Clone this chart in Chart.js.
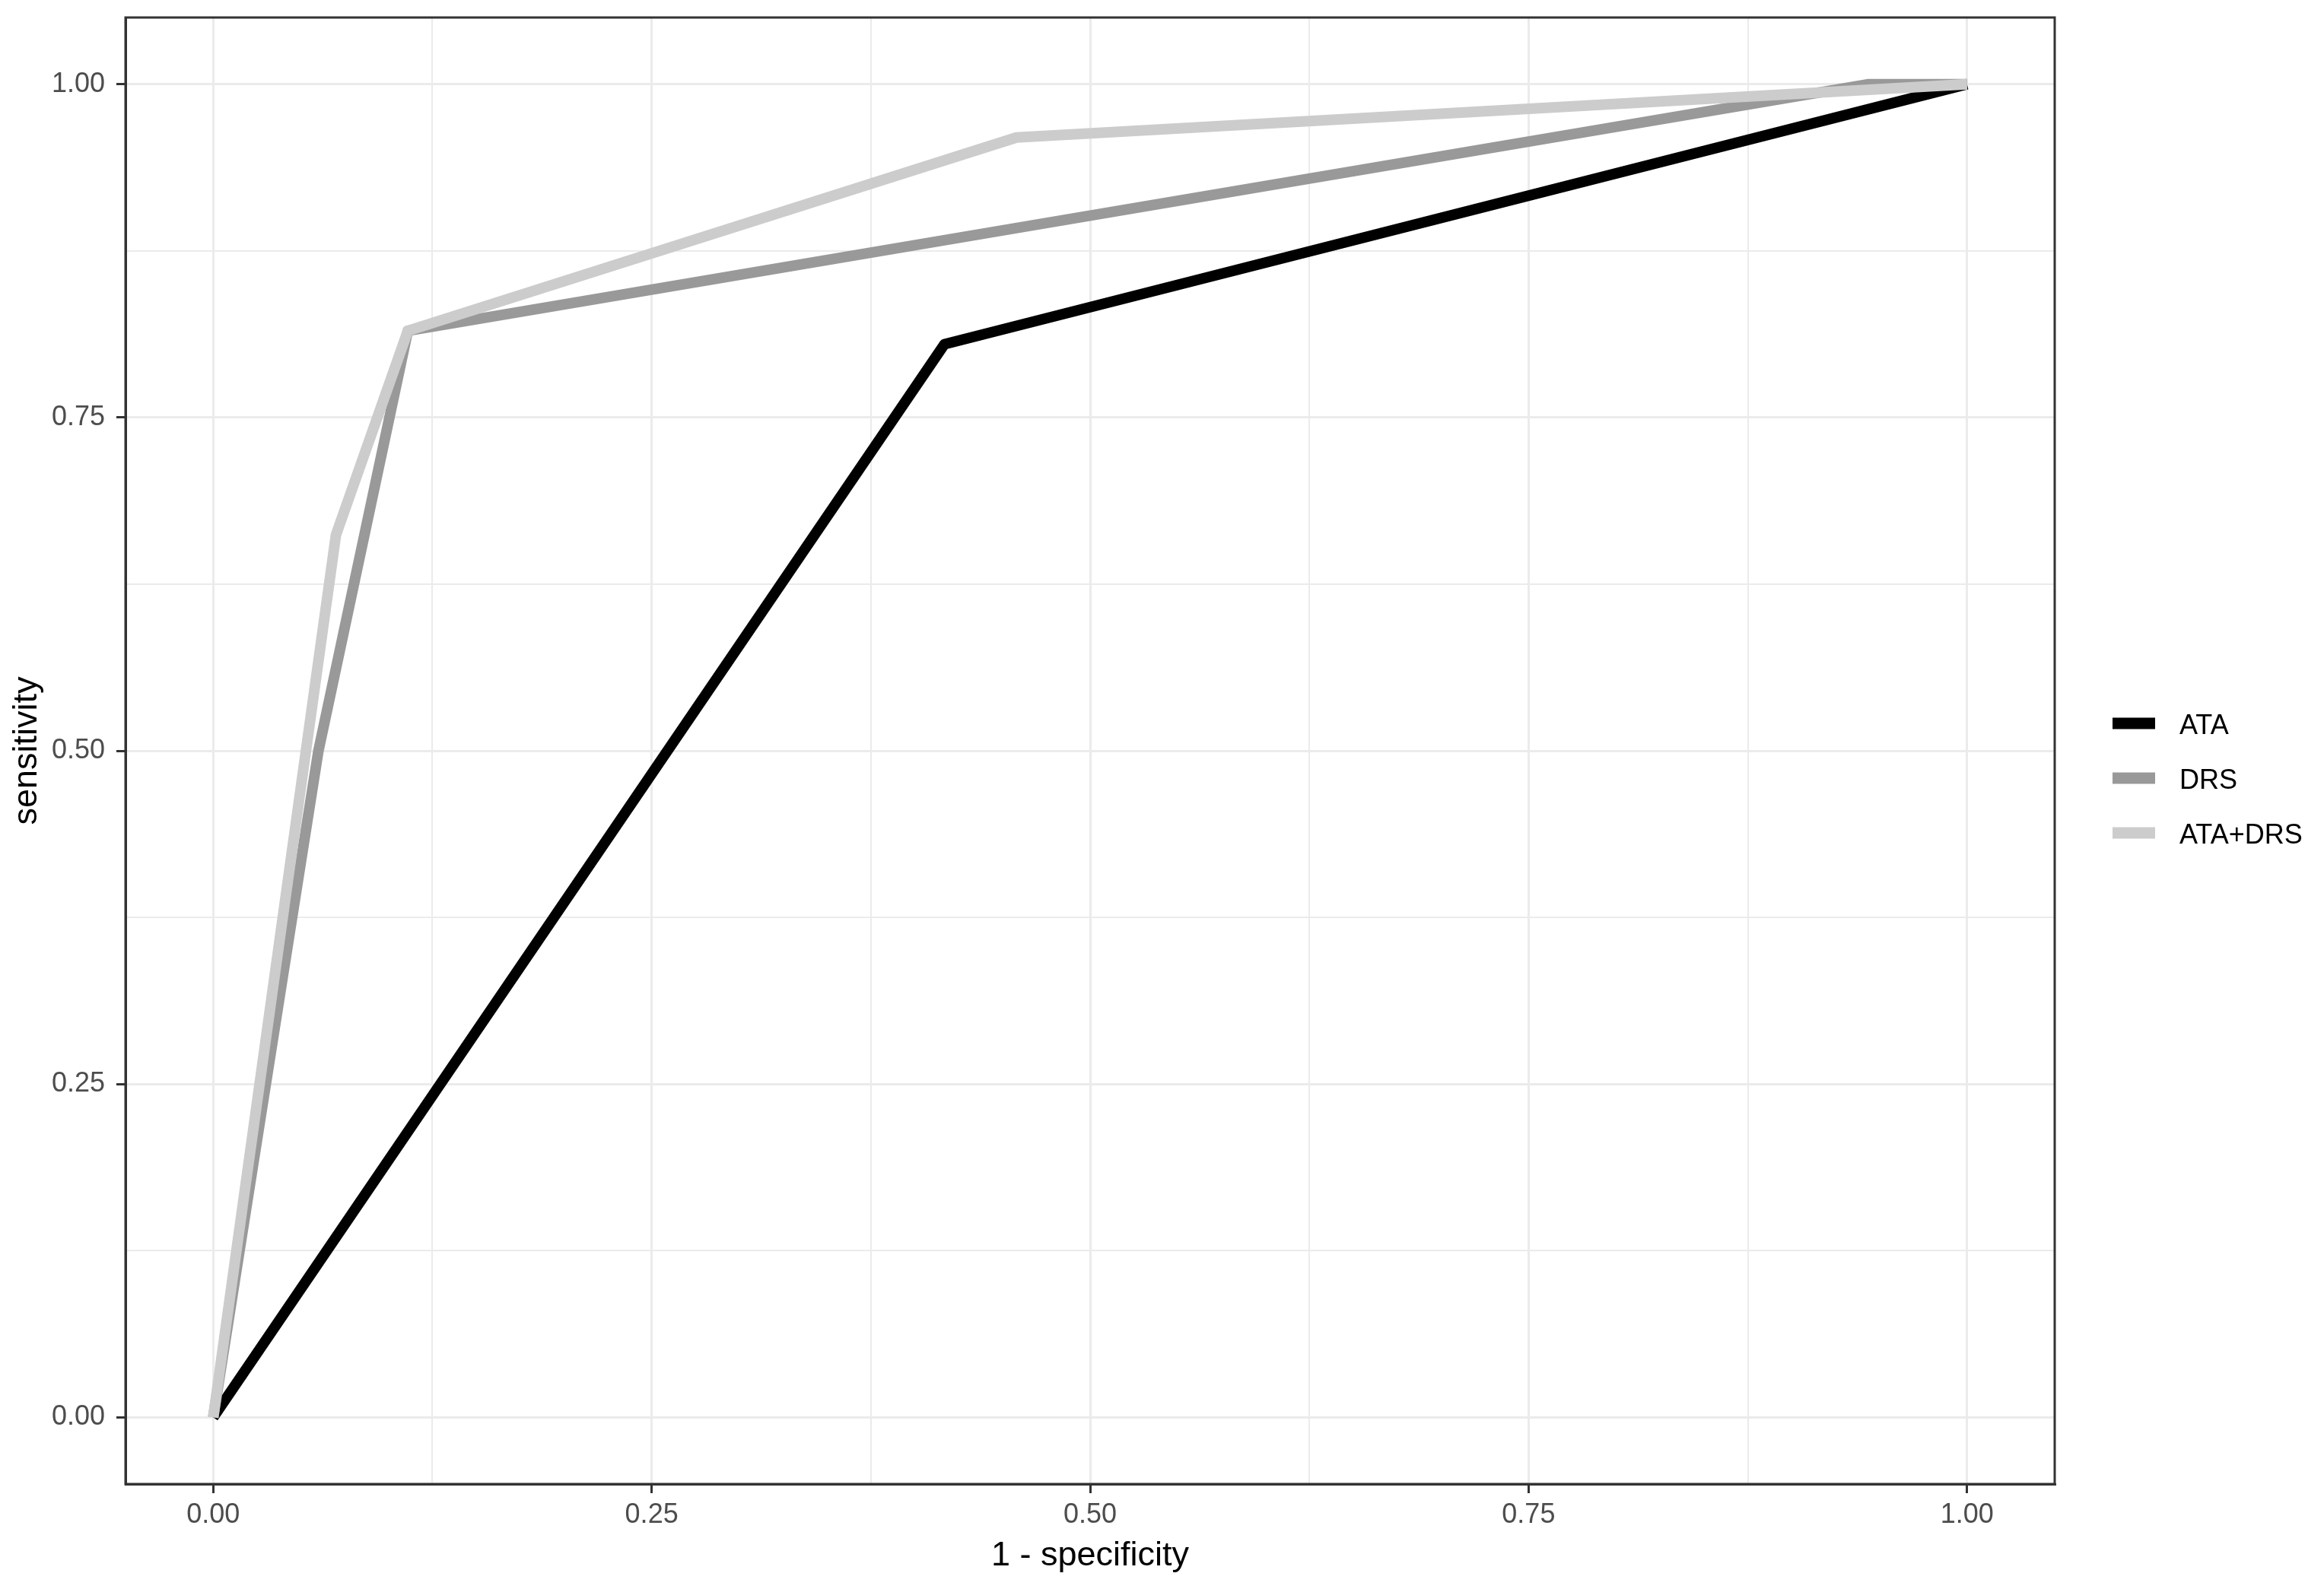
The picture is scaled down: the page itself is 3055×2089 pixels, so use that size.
<!DOCTYPE html>
<html>
<head>
<meta charset="utf-8">
<script src="https://cdn.jsdelivr.net/npm/chart.js@4.4.1/dist/chart.umd.min.js"></script>
<style>
html, body { margin: 0; padding: 0; background: #ffffff; }
#wrap { width: 3055px; height: 2089px; }
</style>
</head>
<body>
<div id="wrap"><canvas id="roc-chart" width="3055" height="2089"></canvas></div>
<script>
// ROC curves
var seriesNames = ['ATA', 'DRS', 'ATA+DRS'];
var seriesColors = ['#000000', '#999999', '#CCCCCC'];
var ataFpr = [0, 0.417, 1];
var ataTpr = [0, 0.805, 1];
var drsFpr = [0, 0.06, 0.111, 0.944, 1];
var drsTpr = [0, 0.5, 0.815, 1, 1];
var comboFpr = [0, 0.07, 0.111, 0.458, 1];
var comboTpr = [0, 0.662, 0.815, 0.96, 1];
var majorTicks = [0, 0.25, 0.5, 0.75, 1];
var minorTicks = [0.125, 0.375, 0.625, 0.875];
var tickLabels = ['0.00', '0.25', '0.50', '0.75', '1.00'];

var fontFamily = "'Liberation Sans', Arial, sans-serif";

function toPoints(xs, ys) {
    var pts = [];
    for (var i = 0; i < xs.length; i++) {
        pts.push({ x: xs[i], y: ys[i] });
    }
    return pts;
}

function isMajor(v) {
    for (var i = 0; i < majorTicks.length; i++) {
        if (Math.abs(majorTicks[i] - v) < 1e-9) return i;
    }
    return -1;
}

function buildTicks(scale) {
    var all = majorTicks.concat(minorTicks).sort(function (a, b) { return a - b; });
    scale.ticks = all.map(function (v) { return { value: v }; });
}

function axisOptions(titleText, titlePadding, fit) {
    return {
        type: 'linear',
        min: -0.05,
        max: 1.05,
        afterBuildTicks: buildTicks,
        afterFit: fit,
        ticks: {
            autoSkip: false,
            maxRotation: 0,
            color: '#4D4D4D',
            font: { family: fontFamily, size: 36 },
            callback: function (value) {
                var i = isMajor(value);
                return i >= 0 ? tickLabels[i] : '';
            }
        },
        grid: {
            color: '#EBEBEB',
            lineWidth: function (ctx) {
                return ctx.tick && isMajor(ctx.tick.value) >= 0 ? 3 : 2;
            },
            tickColor: function (ctx) {
                return ctx.tick && isMajor(ctx.tick.value) >= 0 ? '#333333' : 'rgba(0,0,0,0)';
            },
            tickLength: 12,
            tickWidth: 3
        },
        border: { display: true, color: '#333333', width: 3 },
        title: {
            display: true,
            text: titleText,
            color: '#000000',
            font: { family: fontFamily, size: 45 },
            padding: titlePadding
        }
    };
}

// fixed axis sizes so the panel sits where the reference has it
var xAxis = axisOptions('1 - specificity', { top: 0, bottom: 16 }, function (scale) {
    scale.height = 138;
    scale.paddingLeft = 0;
    scale.paddingRight = 0;
});
xAxis.ticks.padding = 7;
var yAxis = axisOptions('sensitivity', { top: 9, bottom: 0 }, function (scale) {
    scale.width = 165;
    scale.paddingTop = 0;
    scale.paddingBottom = 0;
});
yAxis.ticks.padding = 15;

// panel frame + legend on the right
var panelAndLegend = {
    id: 'panelAndLegend',
    afterDraw: function (chart) {
        var c = chart.ctx;
        var a = chart.chartArea;
        c.save();
        c.strokeStyle = '#333333';
        c.lineWidth = 3;
        c.strokeRect(a.left, a.top, a.right - a.left, a.bottom - a.top);

        var keyX = a.right + 76;
        var keyW = 56;
        var rowY = [951, 1023, 1095];
        c.font = '36px ' + fontFamily;
        c.textBaseline = 'alphabetic';
        c.textAlign = 'left';
        for (var i = 0; i < seriesNames.length; i++) {
            c.strokeStyle = seriesColors[i];
            c.lineWidth = 15;
            c.beginPath();
            c.moveTo(keyX, rowY[i]);
            c.lineTo(keyX + keyW, rowY[i]);
            c.stroke();
            c.fillStyle = '#000000';
            c.fillText(seriesNames[i], keyX + 88, rowY[i] + 14);
        }
        c.restore();
    }
};

var ctx = document.getElementById('roc-chart').getContext('2d');
var rocChart = new Chart(ctx, {
    type: 'line',
    data: {
        datasets: [{
            label: seriesNames[0],
            data: toPoints(ataFpr, ataTpr),
            borderColor: seriesColors[0],
            order: 3
        }, {
            label: seriesNames[1],
            data: toPoints(drsFpr, drsTpr),
            borderColor: seriesColors[1],
            order: 2
        }, {
            label: seriesNames[2],
            data: toPoints(comboFpr, comboTpr),
            borderColor: seriesColors[2],
            order: 1
        }]
    },
    options: {
        responsive: false,
        devicePixelRatio: 1,
        animation: false,
        layout: { padding: { left: 0, right: 354, top: 23, bottom: 0 } },
        elements: {
            line: { borderWidth: 14, borderJoinStyle: 'round', borderCapStyle: 'butt', fill: false, tension: 0 },
            point: { radius: 0, hoverRadius: 0 }
        },
        plugins: {
            legend: { display: false },
            tooltip: { enabled: false }
        },
        scales: {
            x: xAxis,
            y: yAxis
        }
    },
    plugins: [panelAndLegend]
});
</script>
</body>
</html>
